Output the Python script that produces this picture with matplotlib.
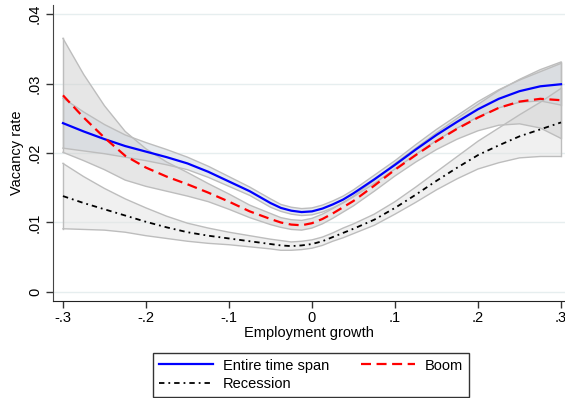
import matplotlib
matplotlib.use("Agg")
import matplotlib.pyplot as plt
import numpy as np

plt.rcParams['font.family'] = ['Liberation Sans', 'DejaVu Sans']

x = [-0.3, -0.275, -0.25, -0.225, -0.2, -0.175, -0.15, -0.125, -0.1, -0.075, -0.05,
     -0.0375, -0.025, -0.0125, 0.0, 0.0125, 0.025, 0.0375, 0.05,
     0.075, 0.1, 0.125, 0.15, 0.175, 0.2, 0.225, 0.25, 0.275, 0.3]

entire = [0.0243, 0.0231, 0.0220, 0.0210, 0.0202, 0.0194, 0.0185, 0.0173, 0.0159, 0.0145, 0.0128,
          0.0121, 0.0117, 0.0115, 0.0116, 0.0120, 0.0126, 0.0133, 0.0142,
          0.0162, 0.0183, 0.0205, 0.0226, 0.0245, 0.0263, 0.0278, 0.0289, 0.0296, 0.0299]
entire_hw = [0.0036, 0.0028, 0.0021, 0.0016, 0.0013, 0.0011, 0.0009, 0.0008, 0.0007, 0.0006, 0.0006,
             0.0005, 0.0005, 0.0005, 0.0005, 0.0005, 0.0005, 0.0005, 0.0005,
             0.0006, 0.0006, 0.0007, 0.0008, 0.0009, 0.0011, 0.0013, 0.0016, 0.0021, 0.0030]

boom = [0.0283, 0.0251, 0.0222, 0.0196, 0.0179, 0.0166, 0.0155, 0.0143, 0.0130, 0.0116, 0.0105,
        0.0100, 0.0097, 0.0096, 0.0099, 0.0105, 0.0113, 0.0122, 0.0131,
        0.0153, 0.0176, 0.0197, 0.0217, 0.0235, 0.0251, 0.0265, 0.0274, 0.0278, 0.0276]
boom_hw = [0.0082, 0.0062, 0.0046, 0.0035, 0.0027, 0.0021, 0.0017, 0.0013, 0.0011, 0.0009, 0.0008,
           0.0007, 0.0007, 0.0007, 0.0007, 0.0007, 0.0007, 0.0007, 0.0007,
           0.0008, 0.0009, 0.0010, 0.0012, 0.0015, 0.0019, 0.0025, 0.0032, 0.0042, 0.0055]

recession = [0.0138, 0.0128, 0.0119, 0.0110, 0.0101, 0.0093, 0.0086, 0.0081, 0.0077, 0.0073, 0.0069,
             0.0067, 0.0066, 0.0067, 0.0069, 0.0073, 0.0079, 0.0085, 0.0091,
             0.0104, 0.0121, 0.0140, 0.0160, 0.0179, 0.0197, 0.0211, 0.0224, 0.0234, 0.0244]
recession_hw = [0.0047, 0.0038, 0.0030, 0.0024, 0.0020, 0.0016, 0.0013, 0.0011, 0.0009, 0.0008, 0.0007,
                0.0007, 0.0006, 0.0006, 0.0006, 0.0006, 0.0006, 0.0007, 0.0007,
                0.0008, 0.0009, 0.0011, 0.0013, 0.0016, 0.0020, 0.0025, 0.0031, 0.0039, 0.0049]

xticks = [-0.3, -0.2, -0.1, 0.0, 0.1, 0.2, 0.3]
xticklabels = ['-.3', '-.2', '-.1', '0', '.1', '.2', '.3']
yticks = [0.0, 0.01, 0.02, 0.03, 0.04]
yticklabels = ['0', '.01', '.02', '.03', '.04']

fig = plt.figure(figsize=(5.65, 3.98), dpi=100)
ax = fig.add_axes([0.0938, 0.2437, 0.9062, 0.7437])

xa = np.array(x)
def band(c, hw, fc, alpha):
    c = np.array(c); hw = np.array(hw)
    ax.fill_between(xa, c - hw, c + hw, facecolor=fc, alpha=alpha, edgecolor='none', zorder=2)
    ax.plot(xa, c - hw, color='#bdbdbd', lw=1.0, zorder=2.5)
    ax.plot(xa, c + hw, color='#bdbdbd', lw=1.0, zorder=2.5)
    ax.plot([xa[0], xa[0]], [c[0] - hw[0], c[0] + hw[0]], color='#bdbdbd', lw=1.0, zorder=2.5)
    ax.plot([xa[-1], xa[-1]], [c[-1] - hw[-1], c[-1] + hw[-1]], color='#bdbdbd', lw=1.0, zorder=2.5)

band(recession, recession_hw, '#e4e4e4', 0.55)
band(boom, boom_hw, '#cfcfcf', 0.5)
band(entire, entire_hw, '#cfd6de', 0.5)

l1, = ax.plot(xa, entire, color='#0000ff', lw=1.6, zorder=4)
l2, = ax.plot(xa, boom, color='#ff0000', lw=1.6, linestyle=(0, (4.5, 2.5)), zorder=4)
l3, = ax.plot(xa, recession, color='black', lw=1.3, linestyle=(0, (3, 2.2, 1, 2.2)), zorder=4)

ax.set_xlim(-0.312, 0.3048)
ax.set_ylim(-0.0013, 0.0413)
ax.set_xticks(xticks)
ax.set_xticklabels(xticklabels)
ax.set_yticks(yticks)
ax.set_yticklabels(yticklabels, rotation=90, va='center')
ax.tick_params(axis='both', labelsize=10.5, length=5, width=1, color='#333333', direction='out')
ax.tick_params(axis='y', pad=3)
ax.tick_params(axis='x', pad=2)
for yv in yticks:
    ax.axhline(yv, color='#e6eeef', lw=1.0, zorder=1)
for s in ['top', 'right']:
    ax.spines[s].set_visible(False)
ax.spines['left'].set_color('#444444')
ax.spines['bottom'].set_color('#222222')
ax.set_xlabel('Employment growth', fontsize=10.5, labelpad=1)
ax.set_ylabel('Vacancy rate', fontsize=10.5, labelpad=3)

leg = fig.legend([l1, l3, l2], ['Entire time span', 'Recession', 'Boom'],
                 loc='lower left', bbox_to_anchor=(0.271, 0.003, 0.559, 0.12), mode='expand',
                 borderaxespad=0.0,
                 ncol=2, fontsize=10.5, handlelength=3.7, handletextpad=0.7, borderpad=0.4,
                 labelspacing=0.3, columnspacing=2.0, frameon=True, fancybox=False)
leg.get_frame().set_edgecolor('black')
leg.get_frame().set_linewidth(1.0)

fig.savefig('out.png', dpi=100)
